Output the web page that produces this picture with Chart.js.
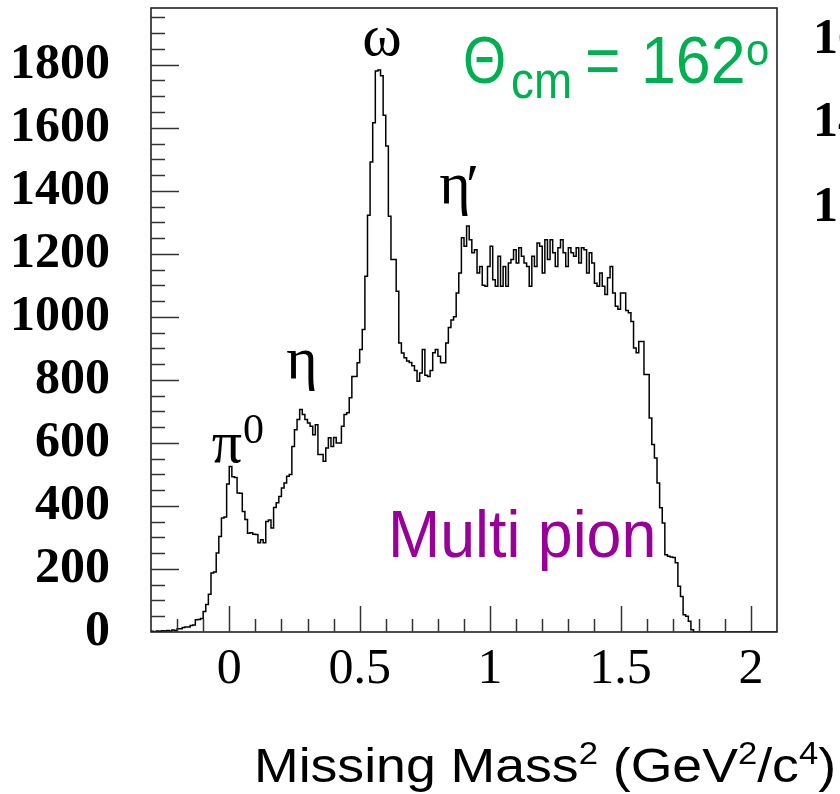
<!DOCTYPE html>
<html>
<head>
<meta charset="utf-8">
<title>Missing mass squared</title>
<script src="https://cdn.jsdelivr.net/npm/chart.js@4.4.1/dist/chart.umd.min.js"></script>
<style>
  html, body { margin: 0; padding: 0; background: #fff; }
  #wrap { position: relative; width: 840px; height: 794px; }
</style>
</head>
<body>
<div id="wrap"><canvas id="mm2"></canvas></div>
<script>
// histogram: 0.01 GeV^2 bins starting at -0.3
const binStart = -0.3;
const binWidth = 0.01;
const counts = [
  2, 0, 3, 2, 4, 3, 5, 3, 6, 5,
  10, 10, 14, 16, 16, 21, 22, 39, 40, 43,
  65, 87, 120, 187, 190, 251, 303, 362, 365, 470,
  525, 493, 490, 441, 440, 382, 357, 313, 315, 310,
  309, 283, 293, 283, 351, 355, 330, 395, 410, 430,
  457, 473, 494, 500, 589, 642, 674, 706, 690, 674,
  663, 653, 626, 658, 563, 563, 542, 584, 616, 589,
  617, 600, 600, 653, 690, 696, 743, 811, 811, 854,
  896, 960, 1129, 1322, 1491, 1616, 1780, 1783, 1765, 1640,
  1542, 1319, 1182, 1182, 1081, 917, 885, 870, 860, 855,
  845, 830, 796, 822, 896, 815, 811, 830, 886, 896,
  875, 854, 854, 917, 966, 990, 1000, 1076, 1139, 1251,
  1224, 1288, 1245, 1203, 1213, 1139, 1160, 1100, 1097, 1160,
  1224, 1118, 1097, 1192, 1097, 1160, 1097, 1171, 1182, 1213,
  1171, 1219, 1192, 1171, 1160, 1097, 1192, 1160, 1234, 1224,
  1139, 1245, 1182, 1245, 1203, 1160, 1219, 1245, 1203, 1160,
  1219, 1203, 1192, 1219, 1171, 1219, 1213, 1139, 1203, 1171,
  1107, 1097, 1139, 1097, 1071, 1124, 1160, 1076, 1034, 1024,
  1076, 1076, 1020, 1013, 985, 901, 886, 922, 922, 817,
  817, 679, 595, 552, 473, 394, 346, 245, 240, 238,
  236, 220, 145, 113, 55, 50, 34, 7, 0, 0,
  0, 0, 0, 0, 0, 0, 0, 0, 0, 0,
  0, 0, 0, 0, 0, 0, 0, 0, 0, 0,
  0, 0, 0, 0, 0, 0, 0, 0, 0, 0,
];

const xRange = [-0.3, 2.1];
const yRange = [0, 1980];
const xTickValues = [0, 0.5, 1, 1.5, 2];
const xTickLabels = ["0", "0.5", "1", "1.5", "2"];
const yTickValues = [0, 200, 400, 600, 800, 1000, 1200, 1400, 1600, 1800];
const yTickLabels = ["0", "200", "400", "600", "800", "1000", "1200", "1400", "1600", "1800"];
const xMinorStep = 0.1;
const yMinorStep = 50;

const peakLabels = ["\u03c9", "\u03b7", "\u03c0", "\u03b7"];
const angleText = "162";
const regionText = "Multi pion";

const histPoints = counts.map((c, i) => ({ x: binStart + i * binWidth, y: c }));
histPoints.push({ x: binStart + counts.length * binWidth, y: counts[counts.length - 1] });

function drawText(ctx, s, px, py, font, color, sx = 1, align = "left") {
  ctx.save();
  ctx.font = font;
  ctx.fillStyle = color;
  ctx.textAlign = align;
  ctx.textBaseline = "alphabetic";
  ctx.translate(px, py);
  ctx.scale(sx, 1);
  ctx.fillText(s, 0, 0);
  ctx.restore();
}

function noEdgePadding(s) {
  s.paddingTop = 0;
  s.paddingBottom = 0;
  s.paddingLeft = 0;
  s.paddingRight = 0;
}

const frameAndLabels = {
  id: "frameAndLabels",
  afterDraw(chart) {
    const { ctx, chartArea: a, scales: { x, y } } = chart;
    ctx.save();

    // ROOT style frame
    ctx.strokeStyle = "#222";
    ctx.lineWidth = 1.6;
    ctx.strokeRect(a.left, a.top, a.right - a.left, a.bottom - a.top);

    // inward ticks
    ctx.strokeStyle = "#333";
    ctx.lineWidth = 1.5;
    ctx.beginPath();
    for (let v = xRange[0] + xMinorStep; v < xRange[1] - 1e-6; v += xMinorStep) {
      const px = Math.round(x.getPixelForValue(v)) + 0.5;
      const major = xTickValues.some(t => Math.abs(t - v) < 1e-6);
      ctx.moveTo(px, a.bottom);
      ctx.lineTo(px, a.bottom - (major ? 26 : 13));
    }
    for (let v = yMinorStep; v < yRange[1]; v += yMinorStep) {
      const py = Math.round(y.getPixelForValue(v)) + 0.5;
      const major = yTickValues.includes(v);
      ctx.moveTo(a.left, py);
      ctx.lineTo(a.left + (major ? 28 : 14), py);
    }
    ctx.stroke();

    const serif = "\"Liberation Serif\", \"Times New Roman\", serif";
    const sans = "\"Liberation Sans\", Arial, sans-serif";

    // peak names
    drawText(ctx, peakLabels[0], 382, 55, `60px ${serif}`, "#000", 1, "center");
    drawText(ctx, peakLabels[1], 302, 378, `60px ${serif}`, "#000", 1, "center");
    drawText(ctx, peakLabels[2], 227, 462, `60px ${serif}`, "#000", 1, "center");
    drawText(ctx, "0", 243, 443, `42px ${serif}`, "#000");
    drawText(ctx, peakLabels[3], 455, 203, `60px ${serif}`, "#000", 1, "center");
    drawText(ctx, "\u2032", 466, 205, `60px ${serif}`, "#000");

    // angle
    const green = "#00b050";
    drawText(ctx, "\u0398", 463, 83, `66px ${sans}`, green, 0.84);
    drawText(ctx, "cm", 511, 98, `52px ${sans}`, green, 0.88);
    drawText(ctx, "=", 585, 83, `66px ${sans}`, green, 0.92);
    drawText(ctx, angleText, 641, 83, `66px ${sans}`, green, 0.95);
    drawText(ctx, "o", 746, 65, `44px ${sans}`, green, 0.95);

    // region name
    drawText(ctx, regionText, 388, 557, `66px ${sans}`, "#990099", 0.95);

    // axis title with superscripts
    const parts = [
      ["Missing Mass", false], ["2", true], [" (GeV", false], ["2", true],
      ["/c", false], ["4", true], [")", false],
    ];
    const baseFont = `48px ${sans}`;
    const supFont = `31px ${sans}`;
    let total = 0;
    for (const [s, sup] of parts) {
      ctx.font = sup ? supFont : baseFont;
      total += ctx.measureText(s).width;
    }
    const left = 254, right = 836, base = 782;
    const sx = (right - left) / total;
    let cx = left;
    for (const [s, sup] of parts) {
      ctx.font = sup ? supFont : baseFont;
      const w = ctx.measureText(s).width * sx;
      drawText(ctx, s, cx, sup ? base - 18 : base, sup ? supFont : baseFont, "#000", sx);
      cx += w;
    }

    // neighbouring panel labels cut by the page edge
    ctx.font = `bold 50px ${serif}`;
    ctx.fillStyle = "#000";
    ctx.textBaseline = "middle";
    ["1600", "1400", "1200"].forEach((s, i) => ctx.fillText(s, 813, [40, 123, 208][i]));

    ctx.restore();
  },
};

new Chart(document.getElementById("mm2"), {
  type: "line",
  data: {
    datasets: [{
      data: histPoints,
      stepped: true,
      borderColor: "#000",
      borderWidth: 1.5,
      pointRadius: 0,
      fill: false,
    }],
  },
  options: {
    responsive: true,
    maintainAspectRatio: false,
    animation: false,
    layout: { padding: { left: 0, right: 63, top: 8, bottom: 0 } },
    plugins: { legend: { display: false }, tooltip: { enabled: false } },
    scales: {
      x: {
        type: "linear",
        min: xRange[0],
        max: xRange[1],
        grid: { display: false, drawTicks: false },
        border: { display: false },
        afterBuildTicks: (s) => { s.ticks = xTickValues.map(v => ({ value: v })); },
        afterFit: (s) => { s.height = 162; noEdgePadding(s); },
        ticks: {
          padding: 8,
          color: "#000",
          maxRotation: 0,
          autoSkip: false,
          font: { family: "\"Liberation Serif\", serif", size: 50 },
          callback: (v) => xTickLabels[xTickValues.findIndex(t => Math.abs(t - v) < 1e-6)],
        },
      },
      y: {
        type: "linear",
        min: yRange[0],
        max: yRange[1],
        grid: { display: false, drawTicks: false },
        border: { display: false },
        afterBuildTicks: (s) => { s.ticks = yTickValues.map(v => ({ value: v })); },
        afterFit: (s) => { s.width = 151; noEdgePadding(s); },
        ticks: {
          padding: 41,
          color: "#000",
          autoSkip: false,
          font: { family: "\"Liberation Serif\", serif", size: 50, weight: "bold" },
          callback: (v) => yTickLabels[yTickValues.indexOf(v)],
        },
      },
    },
  },
  plugins: [frameAndLabels],
});
</script>
</body>
</html>
